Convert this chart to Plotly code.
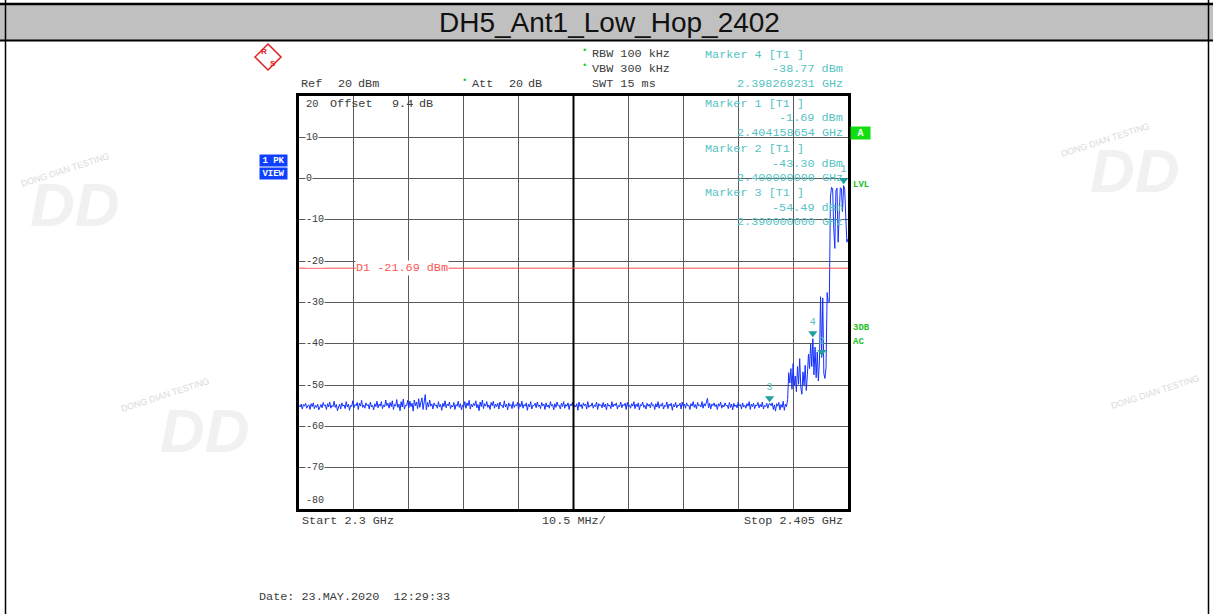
import plotly.graph_objects as go

W, H = 1213, 614
MONO = "Liberation Mono, Courier New, monospace"
SANS = "Liberation Sans, Arial, sans-serif"

# sweep: 501 points, 2.3 .. 2.405 GHz, level in dBm
f_start = 2.3
f_stop = 2.405
noise_floor = [
    -54.9, -55.3, -54.6, -55.8, -54.7, -55.1, -54.4, -55.6, -55.0, -54.8, -55.9, -54.5, -55.2, -54.3, -55.7, -54.9, -55.4, -54.6, -56.0, -55.1,
    -54.7, -55.5, -54.2, -55.0, -54.8, -55.9, -54.5, -55.3, -54.1, -55.6, -54.9, -55.2, -53.9, -55.4, -54.7, -56.2, -55.0, -54.6, -55.8, -54.3,
    -55.1, -54.8, -55.7, -54.0, -55.3, -54.6, -56.1, -54.9, -55.2, -53.8, -55.5, -54.7, -55.0, -54.2, -55.9, -54.4, -55.1, -53.7, -55.4, -54.8,
    -55.6, -54.3, -55.0, -54.7, -55.8, -54.1, -55.3, -54.9, -56.0, -54.5, -55.2, -53.9, -55.5, -54.6, -55.1, -54.0, -55.7, -54.8, -55.3, -53.6,
    -55.0, -54.4, -55.6, -54.2, -55.2, -53.8, -55.9, -54.7, -55.1, -53.5, -55.4, -54.6, -56.2, -54.0, -55.3, -53.4, -55.8, -54.9, -55.0, -53.7,
    -55.5, -53.9, -55.2, -54.4, -56.3, -53.6, -55.0, -54.1, -55.7, -53.3, -55.4, -54.0, -53.1, -55.9, -54.5, -52.3, -56.0, -54.2, -55.3, -53.6,
    -55.1, -54.6, -55.8, -54.3, -55.0, -54.8, -55.6, -54.0, -55.3, -54.7, -56.1, -54.4, -55.2, -53.8, -55.5, -54.6, -55.0, -54.1, -55.7, -54.9,
    -55.3, -54.2, -55.9, -54.7, -55.1, -53.9, -55.4, -54.5, -56.0, -54.8, -55.2, -54.0, -55.6, -54.3, -55.0, -53.7, -55.8, -54.6, -55.3, -54.4,
    -55.0, -53.8, -55.5, -54.7, -56.2, -54.1, -55.2, -53.6, -55.7, -54.5, -55.1, -54.0, -55.4, -54.8, -55.9, -54.2, -55.0, -53.9, -55.6, -54.6,
    -55.2, -54.4, -55.8, -54.1, -55.0, -54.9, -55.5, -53.8, -55.3, -54.6, -56.0, -54.3, -55.1, -54.7, -55.7, -54.0, -55.4, -54.8, -55.0, -54.2,
    -55.9, -54.5, -55.2, -53.9, -55.6, -54.7, -55.1, -54.3, -56.1, -54.6, -55.3, -54.0, -55.8, -54.9, -55.0, -54.4, -55.5, -54.1, -55.2, -54.8,
    -55.7, -54.2, -55.0, -54.6, -55.9, -54.3, -55.3, -54.8, -55.6, -54.0, -55.1, -54.7, -56.0, -54.5, -55.4, -54.1, -55.0, -54.9, -55.8, -54.4,
    -55.2, -54.0, -55.6, -54.7, -55.1, -54.3, -55.9, -54.6, -55.0, -54.2, -55.5, -54.8, -55.3, -54.5, -56.1, -54.1, -55.2, -54.7, -55.7, -54.3,
    -55.0, -54.6, -55.8, -54.0, -55.4, -54.9, -55.1, -54.3, -55.6, -54.8, -55.2, -54.1, -55.9, -54.5, -55.0, -54.7, -55.5, -54.2, -55.3, -54.6,
    -56.0, -54.4, -55.1, -54.8, -55.7, -54.0, -55.3, -54.6, -55.0, -54.3, -55.8, -54.9, -55.2, -54.1, -55.5, -54.7, -55.0, -54.4, -55.9, -54.2,
    -55.3, -54.8, -55.6, -54.5, -55.1, -54.0, -55.7, -54.6, -55.2, -54.3, -56.0, -54.7, -55.0, -54.1, -55.4, -54.9, -55.8, -54.4, -55.1, -54.6,
    -55.5, -54.2, -55.0, -54.8, -55.9, -54.5, -55.3, -54.0, -55.6, -54.7, -55.1, -54.3, -55.8, -54.9, -55.2, -54.1, -55.7, -54.6, -55.0, -54.4,
    -56.1, -54.7, -55.3, -54.2, -55.5, -54.8, -55.0, -54.4, -55.8, -54.1, -55.2, -54.6, -55.6, -54.3, -55.0, -54.9, -55.9, -54.5, -55.1, -54.0,
    -55.4, -54.7, -55.7, -54.2, -55.0, -54.8, -55.3, -54.0, -55.6, -54.5, -55.1, -53.9, -53.2, -55.5, -54.4, -55.8, -54.6, -55.0, -54.3, -55.2,
    -54.7, -55.9, -54.5, -55.1, -54.1, -55.6, -54.8, -55.3, -54.3, -55.0, -54.9, -55.7, -54.2, -55.4, -54.6, -56.0, -54.4, -55.2, -54.8, -55.5,
    -54.1, -55.0, -54.7, -55.8, -54.3, -55.3, -54.9, -55.6, -54.5, -55.1, -54.0, -55.9, -54.6, -55.2, -54.4, -55.7, -54.8, -55.0, -54.2, -55.5,
    -54.7, -55.3, -54.1, -55.8, -54.9, -55.2, -54.4, -55.6, -54.6, -54.49, -55.0, -54.3, -55.9, -54.8, -56.3, -54.5, -55.1, -54.2, -56.0, -54.7,
    -55.4, -53.9, -56.1, -54.6, -55.2,
]
signal_edge = [
    -53.5, -47.0, -49.5, -46.0, -51.0, -44.8, -50.2, -47.8, -51.6, -45.5,
    -49.8, -43.6, -50.5, -52.2, -46.8, -50.0, -45.2, -51.3, -47.5, -42.5,
    -46.0, -40.0, -45.5, -38.77, -47.5, -40.8, -48.2, -42.0, -49.0, -44.2,
    -28.6, -43.30, -28.9, -47.2, -48.4, -45.8, -27.6, -30.1, -29.7, -4.5,
    -2.1, -2.4, -12.0, -16.9, -3.0, -2.3, -15.4, -9.5, -2.2, -2.5,
    -8.0, -1.69, -2.6, -9.5, -15.4, -14.6,
]
level_dbm = noise_floor + signal_edge
freq_ghz = [f_start + i * (f_stop - f_start) / (len(level_dbm) - 1) for i in range(len(level_dbm))]

marker_names = ["1", "2", "3", "4"]
marker_freq = [2.404158654, 2.400000000, 2.390000000, 2.398269231]
marker_level = [-1.69, -43.30, -54.49, -38.77]

display_line = -21.69
y_ticks = [10, 0, -10, -20, -30, -40, -50, -60, -70]


def px(x):
    return x / W


def py(y):
    return 1 - y / H


fig = go.Figure()
fig.add_trace(go.Scatter(x=freq_ghz, y=level_dbm, mode="lines",
                         line=dict(color="#1430ff", width=1), hoverinfo="skip"))
# marker triangles sit just above the measured point
fig.add_trace(go.Scatter(
    x=marker_freq, y=[v + 1.3 for v in marker_level], mode="markers+text",
    marker=dict(symbol="triangle-down", size=8, color="#1f9e9e"),
    text=marker_names, textposition="top center",
    textfont=dict(family=MONO, size=10, color="#4fbfbf"), hoverinfo="skip"))

fig.update_layout(
    width=W, height=H, autosize=False,
    margin=dict(l=0, r=0, t=0, b=0),
    paper_bgcolor="white", plot_bgcolor="white", showlegend=False,
    xaxis=dict(range=[f_start, f_stop], domain=[px(299), px(848)],
               tick0=f_start, dtick=0.0105, showgrid=True, gridcolor="#5a5a5a", gridwidth=1,
               showticklabels=False, ticks="", zeroline=False,
               showline=True, linecolor="black", linewidth=2.5, mirror=True),
    yaxis=dict(range=[-80, 20], domain=[py(509), py(96)],
               tick0=-80, dtick=10, showgrid=True, gridcolor="#5a5a5a", gridwidth=1,
               showticklabels=False, ticks="", zeroline=False,
               showline=True, linecolor="black", linewidth=2.5, mirror=True),
)

# centre division line is drawn heavier
fig.add_shape(type="line", xref="x", yref="y domain", x0=2.3525, x1=2.3525, y0=0, y1=1,
              line=dict(color="black", width=2), layer="above")
# display line D1
fig.add_shape(type="line", xref="x domain", yref="y", x0=0, x1=1, y0=display_line, y1=display_line,
              line=dict(color="#ff4b4b", width=1))

# title bar and page border
fig.add_shape(type="rect", xref="paper", yref="paper", x0=0, x1=1, y0=py(40), y1=py(4),
              fillcolor="#c0c0c0", line=dict(width=0), layer="below")
for yy, w in [(4, 2.5), (40.5, 2)]:
    fig.add_shape(type="line", xref="paper", yref="paper", x0=0, x1=1, y0=py(yy), y1=py(yy),
                  line=dict(color="black", width=w))
for xx in [5.5, 1208.5]:
    fig.add_shape(type="line", xref="paper", yref="paper", x0=px(xx), x1=px(xx), y0=0, y1=1,
                  line=dict(color="black", width=1.5))

# R&S logo
fig.add_shape(type="path", xref="paper", yref="paper",
              path="M {} {} L {} {} L {} {} L {} {} Z".format(
                  px(268), py(44), px(281), py(57), px(268), py(70), px(255), py(57)),
              line=dict(color="#e02020", width=1.5))


def txt(s, x, y, color="#3a3a3a", size=11.8, anchor="left", bg=None, family=MONO, **kw):
    fig.add_annotation(text=s, x=px(x), y=py(y), xref="paper", yref="paper",
                       xanchor=anchor, yanchor="middle", showarrow=False,
                       font=dict(family=family, size=size, color=color),
                       bgcolor=bg, borderpad=0, **kw)


# faint watermarks
for x, y in [(75, 205), (1135, 170), (205, 430)]:
    txt("<b><i>DD</i></b>", x, y, color="#f1f1f1", size=62, anchor="center", family=SANS)
for x, y in [(65, 170), (1105, 140), (165, 395), (1155, 392)]:
    txt("DONG DIAN TESTING", x, y, color="#dadada", size=9, anchor="center", family=SANS, textangle=-18)

txt("DH5_Ant1_Low_Hop_2402", 609, 22, color="#111111", size=28, anchor="center", family=SANS)
txt("<b>R</b>", 264, 51, color="#e02020", size=8, anchor="center", family=SANS)
txt("<b>S</b>", 273, 63, color="#e02020", size=8, anchor="center", family=SANS)

# instrument settings
txt("Ref", 300, 84)
txt("20", 337, 84)
txt("dBm", 357, 84)
txt("Att", 471, 84)
txt("20", 508, 84)
txt("dB", 527, 84)
for x, y in [(464, 81), (584, 51), (584, 66)]:
    txt("•", x, y, color="#22cc22", size=9, anchor="center")
txt("RBW 100 kHz", 591, 54)
txt("VBW 300 kHz", 591, 69)
txt("SWT 15 ms", 591, 84)

# marker readouts
TEAL = "#55c3c3"
readouts = [
    (55, "Marker 4 [T1 ]", "-38.77 dBm", "2.398269231 GHz"),
    (104, "Marker 1 [T1 ]", "-1.69 dBm", "2.404158654 GHz"),
    (149, "Marker 2 [T1 ]", "-43.30 dBm", "2.400000000 GHz"),
    (193, "Marker 3 [T1 ]", "-54.49 dBm", "2.390000000 GHz"),
]
for y0, name, lvl, frq in readouts:
    txt(name, 704, y0, color=TEAL)
    txt(lvl, 844, y0 + 14.5, color=TEAL, anchor="right")
    txt(frq, 844, y0 + 29, color=TEAL, anchor="right")

# side labels
txt("<b>1 PK</b>", 273.5, 160, color="white", size=9, anchor="center", bg="#1040ff", width=27, height=11)
txt("<b>VIEW</b>", 273.5, 173.5, color="white", size=9, anchor="center", bg="#1040ff", width=27, height=11)
txt("<b>A</b>", 860.5, 133, color="white", size=10, anchor="center", bg="#11dd11", width=19, height=12)
txt("<b>LVL</b>", 852, 185, color="#22c022", size=9)
txt("<b>3DB</b>", 852, 328, color="#22c022", size=9)
txt("<b>AC</b>", 852, 342, color="#22c022", size=9)

# level scale inside the grid
txt("20", 305, 104, size=10.5)
txt("Offset", 329, 104)
txt("9.4", 391, 104)
txt("dB", 418, 104)
for v in y_ticks:
    fig.add_annotation(text=str(v), x=px(305), y=v, xref="paper", yref="y",
                       xanchor="left", yanchor="middle", showarrow=False,
                       font=dict(family=MONO, size=10, color="#3a3a3a"),
                       bgcolor="white", borderpad=0)
txt("-80", 305, 500, size=10)
fig.add_annotation(text="D1 -21.69 dBm", x=px(355), y=display_line, xref="paper", yref="y",
                   xanchor="left", yanchor="middle", showarrow=False,
                   font=dict(family=MONO, size=11.8, color="#ff5555"),
                   bgcolor="white", borderpad=0)

# frequency axis
txt("Start 2.3 GHz", 301, 521)
txt("10.5 MHz/", 541, 521)
txt("Stop 2.405 GHz", 844, 521, anchor="right")
txt("Date: 23.MAY.2020  12:29:33", 258, 597)

fig.write_html("out.html", config={"displayModeBar": False},
               post_script="document.body.style.margin='0';")
